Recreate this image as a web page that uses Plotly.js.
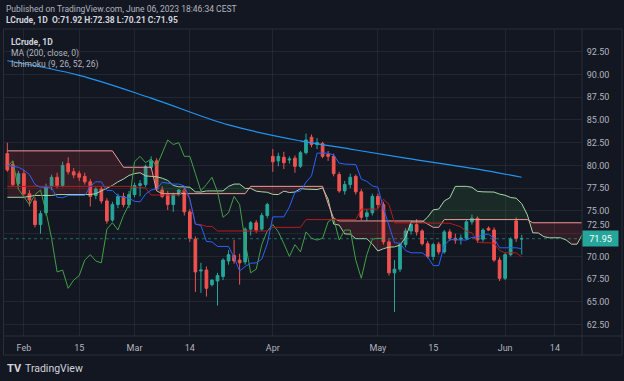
<!DOCTYPE html>
<html><head><meta charset="utf-8">
<script src="https://cdn.plot.ly/plotly-3.0.1.min.js"></script>
<style>html,body{margin:0;padding:0;background:#131722;}#chart{width:624px;height:381px;}</style>
</head><body><div id="chart"></div>
<script>
// ---- candle data (LCrude, 1D) ----
const dates = ['2023-01-27','2023-01-30','2023-01-31','2023-02-01','2023-02-02','2023-02-03','2023-02-06','2023-02-07','2023-02-08','2023-02-09',
'2023-02-10','2023-02-13','2023-02-14','2023-02-15','2023-02-16','2023-02-17','2023-02-20','2023-02-21','2023-02-22','2023-02-23',
'2023-02-24','2023-02-27','2023-02-28','2023-03-01','2023-03-02','2023-03-03','2023-03-06','2023-03-07','2023-03-08','2023-03-09',
'2023-03-10','2023-03-12','2023-03-13','2023-03-14','2023-03-15','2023-03-16','2023-03-17','2023-03-19','2023-03-20','2023-03-21',
'2023-03-22','2023-03-23','2023-03-24','2023-03-27','2023-03-28','2023-03-29','2023-03-30','2023-03-31','2023-04-03','2023-04-04',
'2023-04-05','2023-04-06','2023-04-10','2023-04-11','2023-04-12','2023-04-13','2023-04-14','2023-04-17','2023-04-18','2023-04-19',
'2023-04-20','2023-04-21','2023-04-24','2023-04-25','2023-04-26','2023-04-27','2023-04-28','2023-05-01','2023-05-02','2023-05-03',
'2023-05-04','2023-05-05','2023-05-08','2023-05-09','2023-05-10','2023-05-11','2023-05-12','2023-05-15','2023-05-16','2023-05-17',
'2023-05-18','2023-05-19','2023-05-22','2023-05-23','2023-05-24','2023-05-25','2023-05-26','2023-05-29','2023-05-30','2023-05-31',
'2023-06-01','2023-06-02','2023-06-05','2023-06-06'];
const open = [81.3,80.1,78.0,79.1,76.9,76.1,73.5,74.8,77.7,78.7,
77.8,80.2,79.3,79.1,78.8,78.2,76.7,77.4,76.1,74.0,
75.7,76.6,75.7,76.8,77.8,77.9,79.8,80.5,77.3,76.8,
75.7,76.8,77.3,74.9,71.9,68.4,68.5,66.9,67.3,67.8,
69.5,70.1,69.6,69.4,73.0,73.7,73.0,74.5,81.0,80.5,
80.9,80.6,80.8,79.9,81.4,83.1,82.3,82.4,81.2,81.0,
79.0,77.2,77.9,78.8,77.1,74.4,74.8,76.6,75.7,71.6,
68.2,68.6,71.3,72.8,73.5,72.8,71.4,70.0,71.35,70.5,
72.7,72.0,71.9,72.0,73.8,74.2,71.9,73.1,72.9,69.6,
67.6,70.2,73.9,71.92];
const high = [82.5,80.5,79.4,79.5,77.3,76.5,75.0,78.0,79.0,79.2,
80.4,80.9,79.7,79.4,79.2,78.5,77.6,77.7,76.4,76.0,
76.9,77.0,77.2,78.1,78.4,80.1,81.0,80.8,77.7,77.2,
77.0,77.4,77.6,75.2,72.2,69.3,68.9,67.5,68.2,69.8,
70.7,71.8,70.3,73.2,73.9,74.0,74.8,75.9,81.8,81.4,
81.5,81.0,81.1,81.6,83.5,83.4,83.0,82.6,81.6,81.3,
79.3,78.3,79.1,79.0,77.4,75.2,76.9,76.9,76.0,71.9,
69.6,71.5,73.1,73.9,74.1,73.0,71.7,71.5,71.6,72.9,
73.0,72.5,72.4,74.0,74.6,74.4,73.1,73.3,73.2,69.9,
70.4,72.1,74.3,72.38];
const low = [79.3,77.7,77.6,76.7,75.5,73.2,72.5,74.5,77.3,77.5,
77.6,79.0,78.6,78.3,77.9,75.5,76.3,75.8,73.6,73.8,
75.3,75.4,75.3,76.5,76.6,77.6,79.6,77.2,76.4,75.1,
74.9,76.6,74.5,71.6,66.1,66.0,65.6,66.7,64.6,67.4,
69.1,69.2,66.9,69.1,72.3,72.6,72.8,74.2,79.3,79.9,
79.6,80.2,79.2,79.7,81.2,82.0,81.8,80.8,80.5,78.8,
77.0,76.8,77.5,76.8,74.0,73.9,74.5,75.3,71.3,67.9,
63.9,68.3,71.0,72.4,72.3,71.2,69.8,69.6,70.2,70.3,
71.7,71.4,71.3,71.8,73.5,71.5,71.6,72.8,69.4,67.3,
67.4,70.0,71.6,70.21];
const close = [79.5,77.9,79.1,76.9,76.2,73.5,74.7,77.7,78.7,77.8,
80.0,79.3,78.95,78.7,78.2,76.6,77.4,76.1,73.9,75.7,
76.6,75.7,76.8,77.8,78.0,79.9,80.5,77.4,76.6,75.7,
76.8,77.3,74.9,72.0,68.3,68.5,66.5,67.4,67.9,69.6,
70.2,69.5,69.3,73.0,73.7,72.9,74.5,75.7,80.4,81.0,
80.3,80.7,79.9,81.4,82.8,82.3,82.5,81.0,81.0,79.1,
77.2,77.9,78.7,77.1,74.3,74.8,76.6,75.7,71.6,68.2,
68.6,71.3,72.8,73.5,72.7,71.4,70.0,71.3,70.5,72.7,
72.0,71.8,72.0,73.8,74.2,71.8,72.9,72.9,69.6,67.6,
70.2,71.9,72.0,71.95];

const tenkanEarly = [80.0,79.9,79.8,79.5,79.0,77.9,77.6,77.6];
const kijunEarly = [77.7,77.7,77.7,77.7,77.7,77.7,77.7,77.7,77.7,77.7,77.7,77.7,77.7,77.7,77.7,77.7,77.7,77.7,77.7,77.7,77.7,77.7,77.7,77.6,77.6];
const spanAEarly = [76.5,76.5,76.5,76.5,76.6,76.7,76.7,76.7,76.7,76.8,76.8,76.8,76.8,76.8,76.8,76.8,76.9,77.2,77.5,77.8,78.2,78.5,78.9,79.1,79.2];
const spanBEarly = [81.6,81.6,81.6,81.6,81.6,81.6,81.6,81.6,81.6,81.6,81.6,81.6,81.6,81.6,81.6,81.6,81.6,81.6,81.6,81.6,
80.7,79.8,79.8,79.8,79.8,79.8,79.8,77.2,76.9,76.9,76.9,76.9,76.9,76.9,76.9,76.9,76.9,76.9,76.9,76.9,
76.9,76.9,76.9,76.9,77.7,77.7,77.7,77.7,77.7,77.7,77.7,77.7,77.7,77.7,77.7,77.7,77.7,77.7,75.8,74.2,
73.9,73.9,73.9,73.9,73.9,73.9,73.9,73.9,73.9,73.9,73.9,73.9,73.9,73.9,73.9,73.9];

// MA(200) read at points
const maDates = ['2023-01-27','2023-02-15','2023-03-06','2023-03-22','2023-04-11','2023-04-24','2023-05-08','2023-05-25','2023-06-06'];
const maValues = [91.5,89.9,87.4,84.45,82.7,81.8,80.8,79.6,78.7];

// time-axis labels
const tickDates = ['2023-02-01','2023-02-15','2023-03-01','2023-03-14','2023-04-03','2023-05-01','2023-05-15','2023-06-01','2023-06-14'];
const tickText = ['Feb','15','Mar','14','Apr','May','15','Jun','14'];
const priceTicks = [62.5,65,67.5,70,72.5,75,77.5,80,82.5,85,87.5,90,92.5];
const lastPrice = 71.95;

// ---- derived ----
const N = dates.length;
const SHIFT = 25;
const xs = dates.map((d,i)=>i);
function dateIndex(d){
  const k = dates.indexOf(d); if (k >= 0) return k;
  let cur = new Date(dates[N-1]+'T00:00:00Z'); const target = new Date(d+'T00:00:00Z'); let idx = N-1;
  while (cur < target){ cur.setUTCDate(cur.getUTCDate()+1); const wd = cur.getUTCDay(); if (wd!==0 && wd!==6) idx++; }
  return idx;
}
function mid(i,n){ if(i-n+1<0) return null; let h=-Infinity,l=Infinity; for(let k=i-n+1;k<=i;k++){h=Math.max(h,high[k]);l=Math.min(l,low[k]);} return (h+l)/2; }
const tenkan = xs.map(i => i < tenkanEarly.length ? tenkanEarly[i] : mid(i,9));
const kijun = xs.map(i => i < kijunEarly.length ? kijunEarly[i] : mid(i,26));
const spanX=[], spanA=[], spanB=[];
for (let i=0;i<N+SHIFT;i++){
  spanX.push(i);
  spanA.push(i < spanAEarly.length ? spanAEarly[i] : (tenkan[i-SHIFT]+kijun[i-SHIFT])/2);
  spanB.push(i < spanBEarly.length ? spanBEarly[i] : mid(i-SHIFT,52));
}
const chX=[], chY=[];
for (let j=0;j+SHIFT<N;j++){ chX.push(j); chY.push(close[j+SHIFT]); }

function cloud(){
  const g={x:[],y:[]}, r={x:[],y:[]}; let run=null;
  function flush(){ if(!run) return; const t = run.s>0?g:r;
    run.a.forEach(p=>{t.x.push(p[0]);t.y.push(p[1]);});
    for(let k=run.b.length-1;k>=0;k--){t.x.push(run.b[k][0]);t.y.push(run.b[k][1]);}
    t.x.push(null);t.y.push(null); run=null; }
  for (let i=0;i<spanA.length;i++){
    const d = spanA[i]-spanB[i], s = d>=0?1:-1;
    if(!run){ run={s:s,a:[[i,spanA[i]]],b:[[i,spanB[i]]]}; continue; }
    if(s===run.s){ run.a.push([i,spanA[i]]); run.b.push([i,spanB[i]]); }
    else { const dp = spanA[i-1]-spanB[i-1]; const t = dp/(dp-d); const xc=i-1+t; const yc=spanA[i-1]+t*(spanA[i]-spanA[i-1]);
      run.a.push([xc,yc]); run.b.push([xc,yc]); flush();
      run={s:s,a:[[xc,yc],[i,spanA[i]]],b:[[xc,yc],[i,spanB[i]]]}; }
  }
  flush(); return {g,r};
}
const cl = cloud();

const BG='#131722', TXT='#b2b5be', GRID='rgba(54,58,69,0.45)', FRAME='#2a2e39';
const F='Roboto, "Liberation Sans", sans-serif';
const traces = [
  {type:'scatter',mode:'lines',x:cl.g.x,y:cl.g.y,fill:'toself',fillcolor:'rgba(67,160,71,0.15)',line:{width:0},hoverinfo:'skip'},
  {type:'scatter',mode:'lines',x:cl.r.x,y:cl.r.y,fill:'toself',fillcolor:'rgba(244,67,54,0.14)',line:{width:0},hoverinfo:'skip'},
  {type:'candlestick',x:xs,open:open,high:high,low:low,close:close,whiskerwidth:0,
   increasing:{line:{color:'#26a69a',width:1},fillcolor:'#26a69a'},
   decreasing:{line:{color:'#ef5350',width:1},fillcolor:'#ef5350'}},
  {type:'scatter',mode:'lines',x:spanX,y:spanA,line:{color:'#A5D6A7',width:1}},
  {type:'scatter',mode:'lines',x:spanX,y:spanB,line:{color:'#EF9A9A',width:1}},
  {type:'scatter',mode:'lines',x:chX,y:chY,line:{color:'#43A047',width:1}},
  {type:'scatter',mode:'lines',x:xs,y:kijun,line:{color:'#B71C1C',width:1}},
  {type:'scatter',mode:'lines',x:xs,y:tenkan,line:{color:'#2962FF',width:1}},
  {type:'scatter',mode:'lines',x:maDates.map(dateIndex),y:maValues,line:{color:'#2196F3',width:1.2,shape:'spline'}}
];

const L=4, R=582, T=29, B=336;
const px = v => (v-L)/(R-L), py = v => (B-v)/(B-T);
// the 72.50 label sits just above the last-price tag, as in the reference
const priceText = priceTicks.map(v => v===72.5 ? '' : v.toFixed(2));
const layout = {
  width:624,height:381,margin:{l:L,r:624-R,t:T,b:381-B},
  paper_bgcolor:BG,plot_bgcolor:BG,showlegend:false,hovermode:false,
  xaxis:{type:'linear',range:[-0.6,103.9],tickvals:tickDates.map(dateIndex),ticktext:tickText,
    showgrid:true,gridcolor:GRID,gridwidth:1,zeroline:false,showline:false,ticks:'outside',ticklen:3,tickcolor:'rgba(0,0,0,0)',
    tickfont:{family:F,size:9,color:TXT},rangeslider:{visible:false},fixedrange:true},
  yaxis:{side:'right',range:[61.26,94.99],tickvals:priceTicks,ticktext:priceText,showgrid:true,gridcolor:GRID,zeroline:false,
    showline:false,ticks:'outside',ticklen:2,tickcolor:'rgba(0,0,0,0)',tickfont:{family:F,size:9,color:TXT},fixedrange:true},
  shapes:[
    {type:'line',xref:'x',yref:'y',x0:-0.6,x1:103.9,y0:lastPrice,y1:lastPrice,line:{color:'rgba(38,166,154,0.6)',width:1,dash:'dot'}},
    {type:'line',xref:'paper',yref:'paper',x0:px(3),x1:px(622),y0:py(29),y1:py(29),line:{color:FRAME,width:1}},
    {type:'line',xref:'paper',yref:'paper',x0:px(3),x1:px(622),y0:py(336),y1:py(336),line:{color:FRAME,width:1}},
    {type:'line',xref:'paper',yref:'paper',x0:px(3),x1:px(622),y0:py(355),y1:py(355),line:{color:FRAME,width:1}},
    {type:'line',xref:'paper',yref:'paper',x0:px(3.5),x1:px(3.5),y0:py(29),y1:py(355),line:{color:FRAME,width:1}},
    {type:'line',xref:'paper',yref:'paper',x0:px(582),x1:px(582),y0:py(29),y1:py(355),line:{color:FRAME,width:1}},
    {type:'line',xref:'paper',yref:'paper',x0:px(622),x1:px(622),y0:py(29),y1:py(355),line:{color:FRAME,width:1}}
  ],
  annotations:[
    {xref:'paper',yref:'paper',x:px(4),y:py(9),xanchor:'left',yanchor:'middle',showarrow:false,
     text:'Published on TradingView.com, June 06, 2023 18:46:34 CEST',font:{family:F,size:8.5,color:TXT}},
    {xref:'paper',yref:'paper',x:px(4),y:py(20.5),xanchor:'left',yanchor:'middle',showarrow:false,
     text:'<b>LCrude, 1D  O:71.92 H:72.38 L:70.21 C:71.95</b>',font:{family:F,size:8.5,color:'#d1d4dc'}},
    {xref:'paper',yref:'paper',x:px(9),y:py(41.5),xanchor:'left',yanchor:'middle',showarrow:false,
     text:'<b>LCrude, 1D</b>',font:{family:F,size:8.5,color:'#d1d4dc'}},
    {xref:'paper',yref:'paper',x:px(9),y:py(53),xanchor:'left',yanchor:'middle',showarrow:false,
     text:'MA (200, close, 0)',font:{family:F,size:8.5,color:TXT}},
    {xref:'paper',yref:'paper',x:px(9),y:py(64.5),xanchor:'left',yanchor:'middle',showarrow:false,
     text:'Ichimoku (9, 26, 52, 26)',font:{family:F,size:8.5,color:TXT}},
    {xref:'paper',yref:'paper',x:px(585),y:py(224.5),xanchor:'left',yanchor:'middle',showarrow:false,
     text:'72.50',font:{family:F,size:9,color:TXT}},
    {xref:'paper',yref:'y',x:1,y:lastPrice,xanchor:'left',yanchor:'middle',showarrow:false,
     text:'71.95',width:33,height:13,bgcolor:'#26a69a',font:{family:F,size:9,color:'#ffffff'}},
    {xref:'paper',yref:'paper',x:px(5),y:py(368),xanchor:'left',yanchor:'middle',showarrow:false,
     text:'<b>TV</b>',font:{family:F,size:11,color:'#d1d4dc'}},
    {xref:'paper',yref:'paper',x:px(23),y:py(368),xanchor:'left',yanchor:'middle',showarrow:false,
     text:'TradingView',font:{family:F,size:10.5,color:'#d1d4dc'}}
  ]
};
Plotly.newPlot('chart',traces,layout,{displayModeBar:false,staticPlot:true});
</script>
</body></html>
